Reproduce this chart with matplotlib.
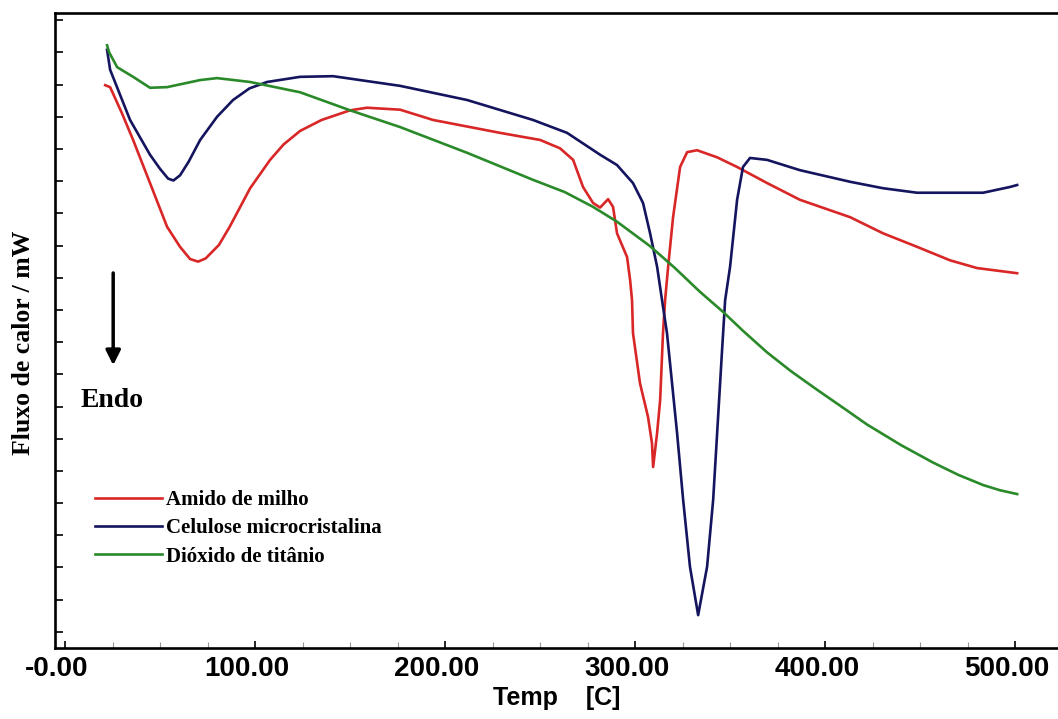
import matplotlib.pyplot as plt
from matplotlib.ticker import FixedLocator, MultipleLocator, NullFormatter
from matplotlib.transforms import ScaledTranslation

# DSC curves (Temp [C], heat flow in arbitrary units)
temp_amido = [21.1, 23.7, 30.0, 35.8, 44.7, 53.7, 60.5, 65.8, 70.0, 74.0, 81.0, 86.8,
              97.4, 107.9, 115.0, 123.7, 135.0, 150.0, 158.9, 176.3, 193.7, 228.9,
              250.0, 260.5, 267.4, 272.6, 277.9, 281.6, 285.8, 288.4, 290.5, 295.8,
              297.4, 298.4, 298.9, 302.6, 306.8, 308.9, 309.5, 311.6, 313.2, 314.7,
              315.8, 317.4, 320.0, 323.7, 327.4, 332.6, 343.2, 353.7, 369.5, 386.8,
              413.2, 430.5, 448.4, 465.8, 480.0, 501.1]
fluxo_amido = [87.4, 87.1, 83.0, 78.9, 72.2, 65.4, 62.3, 60.4, 60.0, 60.5, 62.6, 65.5,
               71.4, 75.8, 78.2, 80.3, 82.0, 83.5, 83.9, 83.6, 82.0, 80.0,
               78.9, 77.6, 75.8, 71.6, 69.1, 68.4, 69.7, 68.5, 64.4, 60.7,
               57.1, 54.0, 48.9, 41.1, 35.9, 31.8, 28.1, 33.4, 38.5, 48.9,
               54.0, 59.2, 66.9, 74.7, 77.0, 77.3, 76.2, 74.7, 72.2, 69.6,
               66.9, 64.4, 62.3, 60.2, 59.0, 58.2]

temp_celulose = [22.1, 23.7, 34.2, 44.7, 50.0, 54.2, 57.0, 60.5, 65.0, 71.1, 80.0, 88.4,
                 97.0, 106.3, 123.7, 141.1, 176.3, 211.6, 246.3, 264.2, 281.6, 290.5,
                 298.9, 304.2, 307.9, 311.6, 314.7, 316.8, 322.1, 325.3, 328.9, 333.2,
                 337.9, 341.1, 343.2, 345.8, 347.4, 350.0, 353.7, 356.8, 360.5, 369.5,
                 386.8, 413.2, 430.5, 448.4, 465.8, 483.2, 497.4, 501.1]
fluxo_celulose = [92.9, 89.8, 82.0, 76.6, 74.4, 72.9, 72.6, 73.4, 75.5, 78.9, 82.5, 85.1,
                  86.9, 87.9, 88.7, 88.8, 87.3, 85.1, 82.0, 80.0, 76.6, 75.0,
                  72.2, 69.1, 64.4, 59.2, 53.0, 48.9, 33.4, 23.0, 12.6, 5.1,
                  12.6, 23.0, 33.4, 46.3, 54.0, 59.2, 69.6, 74.7, 76.1, 75.8,
                  74.2, 72.4, 71.4, 70.7, 70.7, 70.7, 71.6, 71.9]

temp_titanio = [22.1, 23.2, 27.4, 35.8, 44.7, 53.7, 71.1, 80.0, 97.4, 123.7, 150.0,
                176.3, 211.6, 246.3, 263.0, 277.9, 290.5, 307.9, 321.0, 334.2, 346.3,
                357.0, 369.5, 382.0, 395.8, 410.0, 422.1, 440.0, 456.8, 470.0, 483.2,
                492.0, 501.1]
fluxo_titanio = [93.6, 92.5, 90.2, 88.7, 87.0, 87.1, 88.2, 88.5, 87.9, 86.3, 83.5,
                 80.9, 76.9, 72.7, 70.8, 68.5, 66.2, 62.4, 59.0, 55.3, 52.2,
                 49.2, 45.9, 43.0, 40.1, 37.2, 34.7, 31.5, 28.8, 26.9, 25.3,
                 24.5, 23.9]

series_names = ["Amido de milho", "Celulose microcristalina", "Dióxido de titânio"]
series_colors = ["#d92626", "#14145f", "#2a8a2a"]

x_ticks = [0, 100, 200, 300, 400, 500]
x_tick_labels = ["-0.00", "100.00", "200.00", "300.00", "400.00", "500.00"]
y_ticks = [2.5 + 5 * k for k in range(20)]

fig = plt.figure(figsize=(10.58, 7.19), dpi=100)
ax = fig.add_axes([0.052, 0.0988, 0.948, 0.883])

curves = [(temp_amido, fluxo_amido), (temp_celulose, fluxo_celulose), (temp_titanio, fluxo_titanio)]
for (t, f), name, col in zip(curves, series_names, series_colors):
    ax.plot(t, f, color=col, lw=1.9, label=name, solid_joinstyle="round")

ax.set_xlim(-5.3, 522.6)
ax.set_ylim(0, 98.6)

for side in ["left", "bottom", "top"]:
    ax.spines[side].set_linewidth(1.9)
ax.spines["right"].set_visible(False)

ax.xaxis.set_major_locator(FixedLocator(x_ticks))
ax.set_xticklabels(x_tick_labels, fontsize=20, fontweight="bold", family="Liberation Sans")
ax.xaxis.set_minor_locator(MultipleLocator(25))
ax.tick_params(axis="x", which="major", direction="in", length=5, width=1.2, pad=6)
ax.tick_params(axis="x", which="minor", direction="in", length=4, width=0.8, color="#999999")
shift = ScaledTranslation(-8 / 100, 0, fig.dpi_scale_trans)
for lab in ax.get_xticklabels():
    lab.set_transform(lab.get_transform() + shift)

ax.yaxis.set_major_locator(FixedLocator(y_ticks))
ax.yaxis.set_major_formatter(NullFormatter())
ax.tick_params(axis="y", direction="in", length=6, width=1.2)

ax.set_xlabel("Temp    [C]", fontsize=18, fontweight="bold", family="Liberation Sans", labelpad=3)
ax.set_ylabel("Fluxo de calor / mW", fontsize=18.5, fontweight="bold", family="Liberation Serif")
ax.yaxis.set_label_coords(-0.02, 0.48)

ax.annotate("", xy=(0.058, 0.441), xytext=(0.058, 0.595), xycoords="axes fraction",
            arrowprops=dict(arrowstyle="-|>", color="black", lw=2.5, mutation_scale=22))
ax.text(0.057, 0.389, "Endo", transform=ax.transAxes, ha="center", va="center",
        fontsize=20, fontweight="bold", family="Liberation Serif")

ax.legend(loc="upper left", bbox_to_anchor=(0.040, 0.249), frameon=False,
          prop={"family": "Liberation Serif", "weight": "bold", "size": 15},
          handlelength=3.2, handletextpad=0.2, labelspacing=0.4,
          borderpad=0, borderaxespad=0)

fig.savefig("out.png", dpi=100)
